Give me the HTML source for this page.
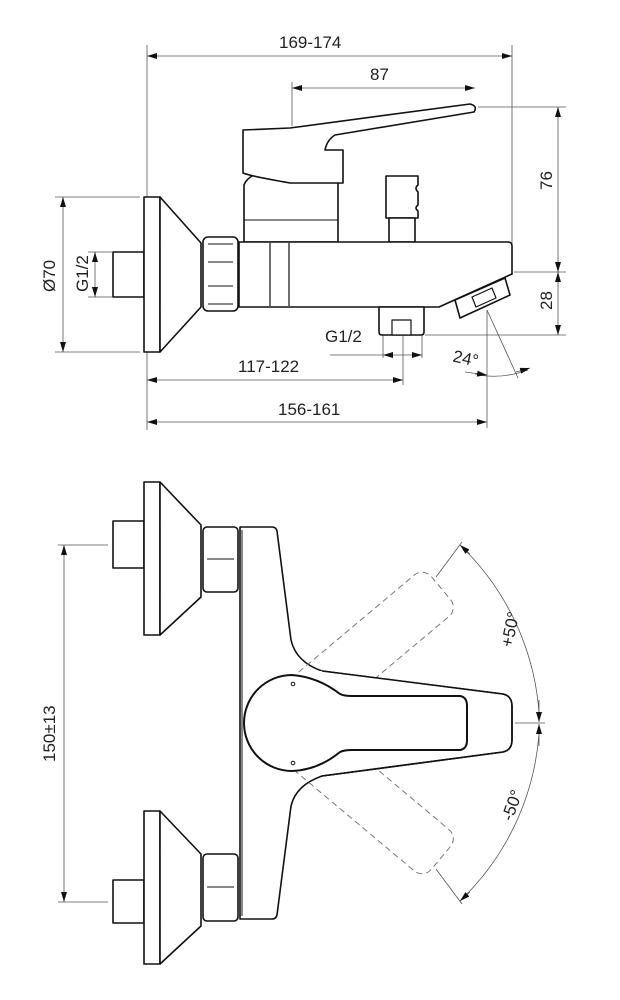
<!DOCTYPE html>
<html><head><meta charset="utf-8"><style>
html,body{margin:0;padding:0;background:#fff}
svg{display:block}
text{font-family:"Liberation Sans",Arial,sans-serif;fill:#222}
</style></head><body>
<svg width="620" height="1000" viewBox="0 0 620 1000" xmlns="http://www.w3.org/2000/svg">
<defs>
<marker id="a" viewBox="0 0 10 6" refX="10" refY="3" markerWidth="10" markerHeight="6" orient="auto-start-reverse" markerUnits="userSpaceOnUse"><path d="M0,0L10,3L0,6z" fill="#111"/></marker>
</defs>
<g fill="none" stroke="#555" stroke-width="0.8">
<line x1="147" y1="45" x2="147" y2="430"/>
<line x1="512" y1="45" x2="512" y2="268"/>
<line x1="147" y1="56" x2="512" y2="56" marker-start="url(#a)" marker-end="url(#a)"/>
<line x1="292" y1="82" x2="292" y2="126"/>
<line x1="292" y1="88" x2="475" y2="88" marker-start="url(#a)" marker-end="url(#a)"/>
<line x1="478" y1="107" x2="566" y2="107"/>
<line x1="514" y1="272" x2="566" y2="272"/>
<line x1="425" y1="335" x2="566" y2="335"/>
<line x1="558" y1="107" x2="558" y2="272" marker-start="url(#a)" marker-end="url(#a)"/>
<line x1="558" y1="272" x2="558" y2="335" marker-start="url(#a)" marker-end="url(#a)"/>
<line x1="55" y1="197" x2="140" y2="197"/>
<line x1="55" y1="352" x2="140" y2="352"/>
<line x1="63" y1="197" x2="63" y2="352" marker-start="url(#a)" marker-end="url(#a)"/>
<line x1="88" y1="252" x2="112" y2="252"/>
<line x1="88" y1="297" x2="112" y2="297"/>
<line x1="95" y1="252" x2="95" y2="297" marker-start="url(#a)" marker-end="url(#a)"/>
<line x1="383" y1="335" x2="383" y2="358"/>
<line x1="422" y1="335" x2="422" y2="358"/>
<line x1="330" y1="355" x2="383" y2="355"/>
<line x1="383" y1="355" x2="422" y2="355" marker-start="url(#a)" marker-end="url(#a)"/>
<line x1="403" y1="335" x2="403" y2="385"/>
<line x1="147" y1="380" x2="403" y2="380" marker-start="url(#a)" marker-end="url(#a)"/>
<line x1="487" y1="310" x2="487" y2="428"/>
<line x1="147" y1="422" x2="487" y2="422" marker-start="url(#a)" marker-end="url(#a)"/>
<line x1="487" y1="310" x2="518" y2="378"/>
<path d="M475,374 Q500,380 528,370"/>
<line x1="465" y1="372" x2="487" y2="375" marker-end="url(#a)"/>
<line x1="530" y1="368" x2="516" y2="372" marker-start="url(#a)"/>
<line x1="58" y1="545" x2="108" y2="545"/>
<line x1="58" y1="902" x2="108" y2="902"/>
<line x1="64" y1="545" x2="64" y2="902" marker-start="url(#a)" marker-end="url(#a)"/>
<line x1="436" y1="577" x2="462" y2="542"/>
<line x1="436" y1="869" x2="462" y2="904"/>
<line x1="515" y1="723" x2="545" y2="723"/>
<path d="M462,547 A258,258 0 0 1 539,712"/>
<path d="M539,734 A258,258 0 0 1 462,899"/>
<line x1="470" y1="554" x2="460" y2="545" marker-end="url(#a)"/>
<line x1="470" y1="892" x2="460" y2="901" marker-end="url(#a)"/>
<line x1="539" y1="700" x2="539" y2="722" marker-end="url(#a)"/>
<line x1="539" y1="746" x2="539" y2="724" marker-end="url(#a)"/>
</g>
<g fill="#fff" stroke="#111" stroke-width="1.6" stroke-linejoin="round">
<rect x="113" y="252" width="31" height="45"/>
<rect x="144" y="197" width="16" height="155"/>
<path d="M160,197 L201,243 L201,307 L160,352 Z"/>
<rect x="203" y="237" width="35" height="74" rx="5"/>
<path d="M208,244h25M208,262h25M208,286h25M208,304h25" stroke-width="1"/>
<path d="M244,242 L244,185 Q250,169 290,170 L338,170 L338,242Z"/>
<path d="M244,220 H338" stroke-width="1"/>
<path d="M243,130 L290,128 L470,104 Q478,106 474,112 L335,135 Q327,140 325,150 L343,150 L343,183 L290,183 Q250,176 243,173 Z"/>
<path d="M386,176 H418 V185 Q414,188 418,192 V205 Q414,208 418,211 V218 H386 Z"/>
<rect x="389" y="218" width="26" height="24"/>
<path d="M239,242 H508 Q512,242 512,246 V274 L439,307 H239 Z"/>
<path d="M270,243 V306 M289,243 V306" stroke-width="1.2"/>
<path d="M455,300 L505,278 L510,295 L460,318 Z"/>
<path d="M472,297 L492,288 L496,298 L476,307 Z" stroke-width="1.2"/>
<path d="M379,307 H424 V332 Q424,335 421,335 H382 Q379,335 379,332 Z"/>
<rect x="392" y="320" width="19" height="15" stroke-width="1.2"/>
<rect x="113" y="521" width="31" height="47"/>
<rect x="144" y="482" width="16" height="153"/>
<path d="M160,482 L201,525 L201,597 L160,635 Z"/>
<rect x="203" y="527" width="35" height="65" rx="4"/>
<path d="M207,559h27" stroke-width="1"/>
<rect x="113" y="880" width="31" height="43"/>
<rect x="144" y="811" width="16" height="153"/>
<path d="M160,811 L201,854 L201,926 L160,964 Z"/>
<rect x="203" y="854" width="35" height="67" rx="4"/>
<path d="M207,887h27" stroke-width="1"/>
<path d="M240,527 H272 Q276,527 277,531 L291,640 Q296,662 322,671 L503,694 Q512,696 512,706 V740 Q512,750 503,752 L322,776 Q296,785 291,806 L277,915 Q276,919 272,919 H240 Z"/>
<path d="M242,530 V916" stroke-width="1"/>
</g>
<g fill="none" stroke="#777" stroke-width="1" stroke-dasharray="6,4">
<g transform="rotate(-40 280 723)"><rect x="295" y="696" width="195" height="54" rx="12"/></g>
<g transform="rotate(40 280 723)"><rect x="295" y="696" width="195" height="54" rx="12"/></g>
</g>
<path d="M300,672 L322,671 L503,695 Q511,697 511,706 V740 Q511,749 503,751 L322,775 L300,775 Z" fill="#fff"/>
<path d="M292,675 Q318,677 340,694 Q344,696 352,696 L460,696 Q467,697 467,706 V740 Q467,749 460,750 L352,750 Q344,750 340,752 Q318,770 292,771 A48,48 0 0 1 292,675 Z" fill="#fff" stroke="#111" stroke-width="2"/>
<path d="M322,671 L503,694 Q512,696 512,706 V740 Q512,750 503,752 L322,776" fill="none" stroke="#111" stroke-width="1.6"/>
<circle cx="293" cy="684" r="1.8" fill="none" stroke="#111"/>
<circle cx="293" cy="763" r="1.8" fill="none" stroke="#111"/>
<g font-size="17">
<text x="279" y="48">169-174</text>
<text x="370" y="80">87</text>
<text x="238" y="372">117-122</text>
<text x="278" y="415">156-161</text>
<text x="325" y="342">G1/2</text>
<text x="453" y="364" transform="rotate(12 465 358)">24°</text>
<text transform="translate(552,190) rotate(-90)">76</text>
<text transform="translate(552,310) rotate(-90)">28</text>
<text transform="translate(55,292) rotate(-90)">Ø70</text>
<text transform="translate(88,292) rotate(-90)">G1/2</text>
<text transform="translate(55,762) rotate(-90)">150±13</text>
<text transform="translate(512,648) rotate(-78)">+50°</text>
<text transform="translate(512,822) rotate(-70)">-50°</text>
</g>
</svg>
</body></html>
